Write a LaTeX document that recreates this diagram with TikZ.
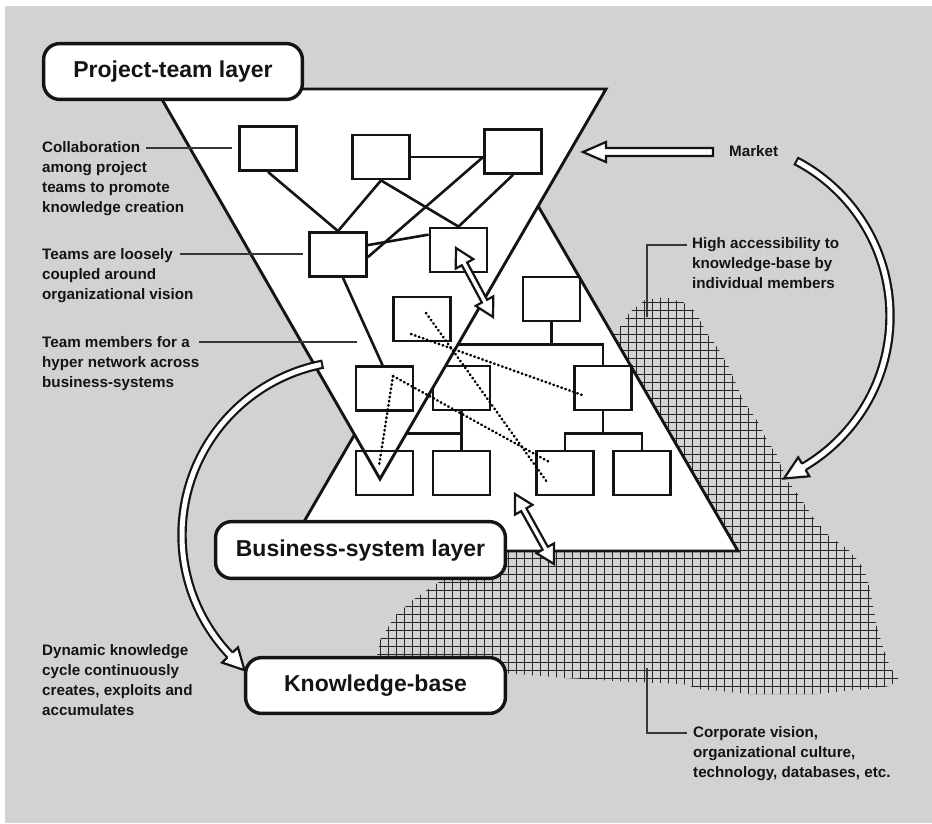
\documentclass[tikz,border=0pt]{standalone}
\usepackage{fontspec}
\setmainfont{Liberation Sans}
\usetikzlibrary{calc}
\definecolor{panel}{RGB}{209,210,212}
\definecolor{ink}{RGB}{20,20,20}
% block double arrow between two tips: #1, #2
\newcommand\dblblock[2]{%
  \coordinate (#1h) at ($(#1)!18pt!(#2)$);
  \coordinate (#2h) at ($(#2)!18pt!(#1)$);
  \draw[blockarrow] (#1)
    -- ($(#1h)!10pt!90:(#2)$) -- ($(#1h)!3pt!90:(#2)$)
    -- ($(#2h)!3pt!-90:(#1)$) -- ($(#2h)!10pt!-90:(#1)$)
    -- (#2)
    -- ($(#2h)!10pt!90:(#1)$) -- ($(#2h)!3pt!90:(#1)$)
    -- ($(#1h)!3pt!-90:(#2)$) -- ($(#1h)!10pt!-90:(#2)$)
    -- cycle;}
\begin{document}
\begin{tikzpicture}[x=1pt,y=-1pt,
  unit/.style={draw=ink, line width=2.8pt, minimum width=57pt, minimum height=44pt, inner sep=0pt},
  link/.style={draw=ink, line width=2.6pt},
  layer/.style={draw=ink, line width=2.9pt, fill=white, line join=miter},
  hyper/.style={draw=black, line width=2.6pt, line cap=round, dash pattern=on 0.6pt off 3.6pt},
  layerlabel/.style={draw=ink, fill=white, line width=3.4pt, rounded corners=16pt, inner sep=0pt,
    text height=17pt, text depth=5pt, text=ink, font=\fontsize{23}{27}\selectfont\bfseries},
  note/.style={anchor=base west, inner sep=0pt, text=ink, font=\fontsize{15.2}{20}\selectfont\bfseries},
  leader/.style={draw=ink!85, line width=1.3pt},
  gridline/.style={draw=black!85, line width=1pt},
  blockarrow/.style={draw=ink, fill=white, line width=2.2pt, line join=miter},
  bandout/.style={draw=ink, line width=9.4pt},
  bandin/.style={draw=white, line width=5pt}
]
\useasboundingbox (0,0) rectangle (932,823);
\fill[panel] (5,6) rectangle (932,823);

% knowledge-base ground: cross-hatched area
\begin{scope}
  \clip (560,400) -- (600,345) -- (618,330) -- (630,312) -- (645,300) -- (665,297)
    -- (683,302) -- (696,312) -- (706,332) -- (716,345) -- (729,367) -- (743,400)
    -- (757,420) -- (767,440) -- (777,455) -- (787,480) -- (800,497) -- (813,517)
    -- (830,537) -- (847,548) -- (860,563) -- (867,577) -- (872,600) -- (877,627)
    -- (883,647) -- (890,667) -- (899,680) -- (890,686) -- (867,689) -- (817,694)
    -- (750,694) -- (700,689) -- (683,684) -- (633,682) -- (566,678) -- (516,674)
    -- (470,670) -- (420,662) -- (377,657) -- (380,640) -- (395,616) -- (413,600)
    -- (430,588) -- (450,575) -- (480,560) -- cycle;
  \foreach \i in {0,...,67} \draw[gridline] ({372.5+\i*8},290) -- ++(0,410);
  \foreach \j in {0,...,51} \draw[gridline] (370,{294.5+\j*8}) -- ++(540,0);
\end{scope}

% business-system layer
\draw[layer] (287,551) -- (738,551) -- (512.6,162) -- cycle;
\node[unit] (T) at (551.5,299) {};
\node[unit] (R2) at (603,388) {};
\node[unit] (M2) at (461.5,388) {};
\node[unit] (M3) at (461.5,473) {};
\node[unit] (R3a) at (565,473) {};
\node[unit] (R3b) at (642,473) {};
\coordinate (l3c) at (384.5,473);
\coordinate (tj) at ($(T.south)+(0,22)$);
\coordinate (mj) at ($(M2.south)+(0,22)$);
\coordinate (rj) at ($(R2.south)+(0,22)$);
\draw[link] (T.south) -- (tj);
\draw[link] (tj -| M2.west) -- (tj -| R2.north) -- (R2.north);
\draw[link] (M2.south) -- (mj) -- (M3.north);
\draw[link] (mj) -- (mj -| l3c) -- ($(l3c)+(0,-22)$);
\draw[link] (R2.south) -- (rj);
\draw[link] (R3a.north) |- (rj) -| (R3b.north);

% project-team layer
\draw[layer] (156,89) -- (606,89) -- (380,479) -- cycle;
\node[unit] (A) at (268,148.5) {};
\node[unit] (B) at (381,157) {};
\node[unit] (C) at (513,151.5) {};
\node[unit] (D) at (338,254.5) {};
\node[unit] (E) at (458.5,250) {};
\node[unit] (G) at (422,319) {};
\node[unit] (F) at (384.5,388.5) {};
\node[unit] (L3) at (l3c) {};
\coordinate (bc) at (B.east -| C.west);
\draw[link] (A.south) -- (D.north);
\draw[link] (B.south) -- (D.north);
\draw[link] (B.south) -- (E.north);
\draw[link] (C.south) -- (E.north);
\draw[link] (B.east) -- (bc);
\draw[link] (bc) -- ($(D.north east)+(0,26)$);
\draw[link] ($(D.north east)+(0,14)$) -- ($(E.north west)+(0,8)$);
\draw[link] ($(D.south)+(5,0)$) -- ($(F.north)+(-2,0)$);

% hyper network across business systems
\coordinate (g1) at ($(G.center)+(4,-6)$);
\coordinate (g2) at ($(G.center)+(-11,15)$);
\coordinate (f1) at ($(F.center)+(8.5,-12.5)$);
\coordinate (r2d) at ($(R2.center)+(-18,8)$);
\coordinate (ra1) at ($(R3a.center)+(-18,9)$);
\coordinate (ra2) at ($(R3a.center)+(-14,-10)$);
\coordinate (l3d) at ($(L3.center)+(-5.5,-7)$);
\draw[hyper] (g1) -- (ra1);
\draw[hyper] (g2) -- (r2d);
\draw[hyper] (f1) -- (ra2);
\draw[hyper] (f1) -- (l3d);

% two-way exchanges
\coordinate (ea) at (456,248);
\coordinate (eb) at (493,317);
\coordinate (ka) at (515,494);
\coordinate (kb) at (554,564);
\dblblock{ea}{eb}
\dblblock{ka}{kb}

% market input
\node[note] (market) at (729,156) {Market};
\coordinate (mtip) at (583,152);
\coordinate (mtail) at (713,152);
\draw[blockarrow] (mtip) -- ($(mtip)+(23,-10)$) -- ($(mtip)+(23,-4)$) -- ($(mtail)+(0,-4)$)
  -- ($(mtail)+(0,4)$) -- ($(mtip)+(23,4)$) -- ($(mtip)+(23,10)$) -- cycle;

% market cycle towards the knowledge-base ground
\draw[bandout] plot[domain=-62.6:59.5, samples=80, variable=\t] ({715+175*cos(\t)},{316+175*sin(\t)});
\draw[bandin] plot[domain=-61.9:59.5, samples=80, variable=\t] ({715+175*cos(\t)},{316+175*sin(\t)});
\filldraw[blockarrow] (805.58,469.82) -- (809.38,476.28) -- (784.0,478.5) -- (798.22,457.32) -- (802.02,463.78);

% dynamic knowledge cycle
\draw[bandout] plot[domain=259.1:136.4, samples=80, variable=\t] ({356+174*cos(\t)},{535+174*sin(\t)});
\draw[bandin] plot[domain=258.4:136.4, samples=80, variable=\t] ({356+174*cos(\t)},{535+174*sin(\t)});
\filldraw[blockarrow] (227.47,657.41) -- (222.03,662.59) -- (244.5,670.2) -- (237.97,647.41) -- (232.53,652.59);

% layer titles
\node[layerlabel, minimum width=258.8pt, minimum height=55.8pt] (ptl) at (173,71.5) {Project-team layer};
\node[layerlabel, minimum width=289.8pt, minimum height=56.8pt] (bsl) at (360.5,550) {Business-system layer};
\node[layerlabel, minimum width=259.8pt, minimum height=55.8pt] (kbl) at (375.5,685.5) {Knowledge-base};

% annotations
\node[note] (collab) at (42,152) {\parbox[t]{220pt}{\raggedright Collaboration\\among project\\teams to promote\\knowledge creation}};
\node[note] (loose) at (42,259) {\parbox[t]{220pt}{\raggedright Teams are loosely\\coupled around\\organizational vision}};
\node[note] (members) at (42,347) {\parbox[t]{220pt}{\raggedright Team members for a\\hyper network across\\business-systems}};
\node[note] (access) at (692,248.5) {\parbox[t]{220pt}{\raggedright High accessibility to\\knowledge-base by\\individual members}};
\node[note] (dynamic) at (42,655) {\parbox[t]{220pt}{\raggedright Dynamic knowledge\\cycle continuously\\creates, exploits and\\accumulates}};
\node[note] (corp) at (693,737) {\parbox[t]{230pt}{\raggedright Corporate vision,\\organizational culture,\\technology, databases, etc.}};

% leader lines
\coordinate (c1) at (146,148); \coordinate (c2) at (232,148);
\coordinate (t1) at (180,254); \coordinate (t2) at (303,254);
\coordinate (h1) at (199,342); \coordinate (h2) at (357,342);
\coordinate (a1) at (687,245); \coordinate (a2) at (647,317);
\coordinate (k1) at (647,668); \coordinate (k2) at (687,733);
\draw[leader] (c1) -- (c2);
\draw[leader] (t1) -- (t2);
\draw[leader] (h1) -- (h2);
\draw[leader] (a1) -| (a2);
\draw[leader] (k1) |- (k2);
\end{tikzpicture}
\end{document}
